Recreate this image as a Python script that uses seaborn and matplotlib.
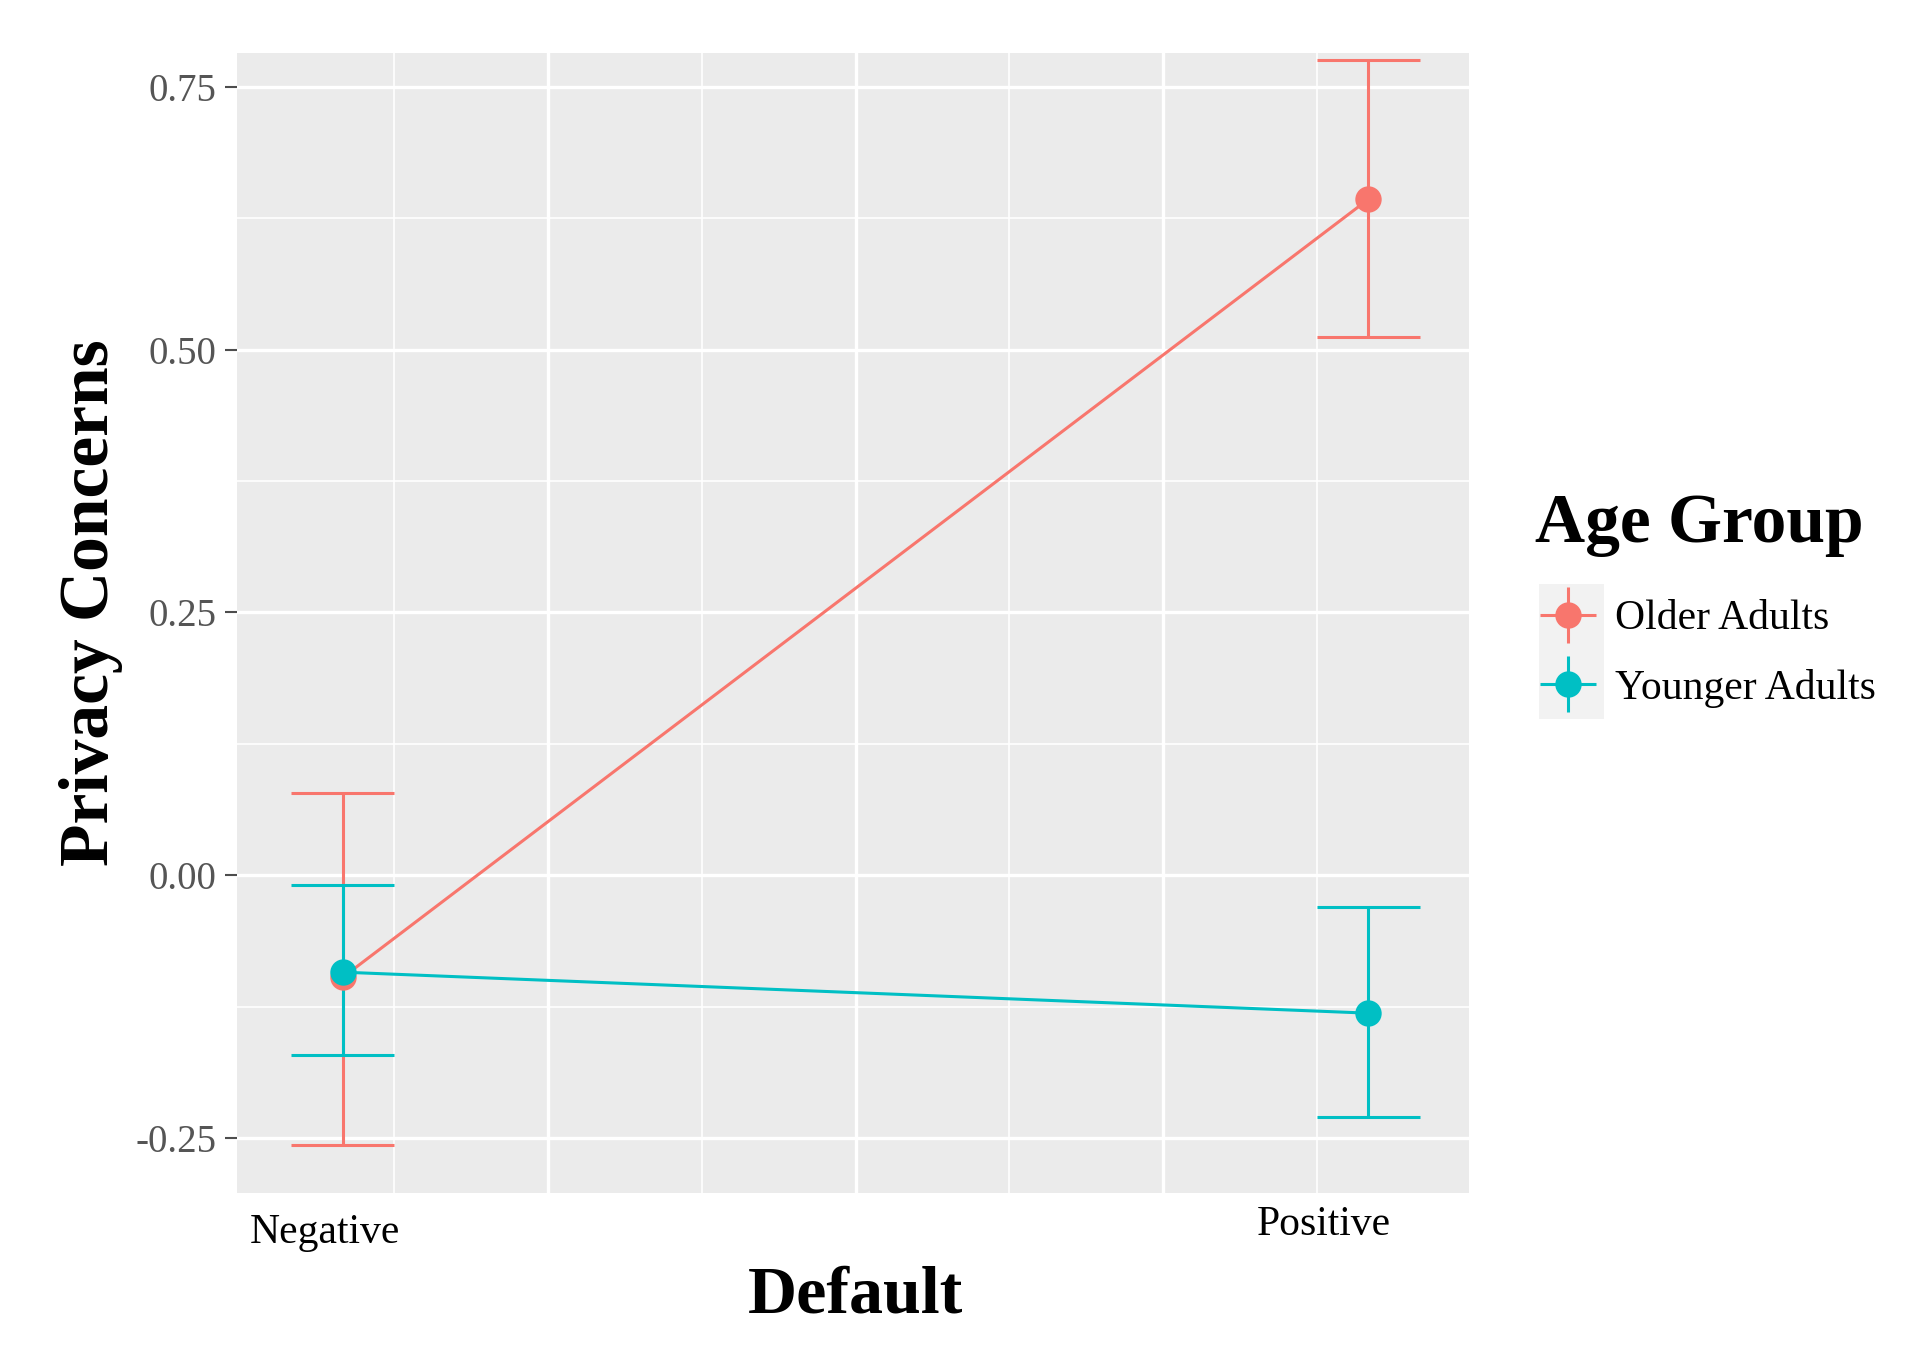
import pandas as pd
import numpy as np
import matplotlib.pyplot as plt
import matplotlib.transforms as mtransforms
import seaborn as sns
from matplotlib.lines import Line2D
from matplotlib.patches import Rectangle
from matplotlib.legend_handler import HandlerTuple

# values
categories = ['Negative', 'Positive']
groups = ['Older Adults', 'Younger Adults']
older_mean = [-0.097, 0.643]
older_lower = [-0.256, 0.512]
older_upper = [0.078, 0.775]
younger_mean = [-0.092, -0.131]
younger_lower = [-0.171, -0.230]
younger_upper = [-0.009, -0.030]
yticks = [-0.25, 0.0, 0.25, 0.50, 0.75]

colors = ['#F8766D', '#00BFC4']

rows = []
for g, m, lo, hi in zip(groups, [older_mean, younger_mean],
                        [older_lower, younger_lower], [older_upper, younger_upper]):
    for i, cat in enumerate(categories):
        rows.append({'Default': cat, 'x': i + 1, 'group': g,
                     'mean': m[i], 'lower': lo[i], 'upper': hi[i]})
df = pd.DataFrame(rows)

plt.rcParams['font.family'] = ['Liberation Serif', 'DejaVu Serif']
plt.rcParams['axes.unicode_minus'] = False

W, H = 1920, 1358
fig, ax = plt.subplots(figsize=(W / 100, H / 100), dpi=100)
fig.subplots_adjust(left=237 / W, right=1469 / W, bottom=1 - 1193 / H, top=1 - 53 / H)
ax.set_facecolor('#EBEBEB')
for s in ax.spines.values():
    s.set_visible(False)

# error bars (drawn per group so the teal ones sit on top)
half = 0.05
for g, c in zip(groups, colors):
    d = df[df.group == g]
    ax.vlines(d.x, d.lower, d.upper, color=c, lw=2.2, zorder=2)
    ax.hlines(d.lower, d.x - half, d.x + half, color=c, lw=2.2, zorder=2)
    ax.hlines(d.upper, d.x - half, d.x + half, color=c, lw=2.2, zorder=2)

sns.lineplot(data=df, x='x', y='mean', hue='group', palette=colors,
             marker='o', markersize=19, markeredgewidth=0, linewidth=2.2,
             legend=False, ax=ax, zorder=3)

ax.set_xlim(0.897, 2.098)
ax.set_ylim(-0.302, 0.782)

ax.set_xticks([1.2, 1.5, 1.8])
ax.set_xticks([1.05, 1.35, 1.65, 1.95], minor=True)
ax.set_yticks(yticks)
ax.set_yticklabels([f'{v:.2f}' for v in yticks])
ax.set_yticks([-0.125, 0.125, 0.375, 0.625], minor=True)
ax.set_axisbelow(True)
ax.grid(which='major', color='white', lw=2.4)
ax.grid(which='minor', color='white', lw=1.2)
ax.tick_params(axis='x', which='both', length=0, labelbottom=False)
ax.tick_params(axis='y', which='minor', length=0)
ax.tick_params(axis='y', which='major', length=8.6, width=1.5, color='#4d4d4d',
               labelsize=28, labelcolor='#555555', pad=6)

# category labels under the panel
trans = mtransforms.blended_transform_factory(ax.transData, ax.transAxes)
dx = [-0.017, -0.044]
base_y = [-0.0439, -0.0368]
for i, cat in enumerate(categories):
    ax.text(i + 1 + dx[i], base_y[i], cat, transform=trans, ha='center',
            va='baseline', fontsize=30, color='black')

ax.set_xlabel('Default', fontsize=49, fontweight='bold')
ax.xaxis.label.set_va('baseline')
ax.xaxis.set_label_coords(0.5016, -0.1044)
ax.set_ylabel('Privacy Concerns', fontsize=50, fontweight='bold')
ax.yaxis.label.set_va('center')
ax.yaxis.set_label_coords(-0.1185, 0.5175)

# legend: key background, then errorbar-style keys
fig.patches.append(Rectangle((1539 / W, 1 - 719 / H), 65 / W, 135 / H,
                             transform=fig.transFigure, facecolor='#F2F2F2',
                             edgecolor='none', zorder=0))
handles = [(Line2D([], [], color=c, marker='+', ms=40, mew=2.2, ls='none'),
            Line2D([], [], color=c, marker='o', ms=19, mew=0, ls='none'))
           for c in colors]
leg = fig.legend(handles, groups, handler_map={tuple: HandlerTuple(ndivide=1)},
                 title='Age Group', loc='upper left',
                 bbox_to_anchor=(1535 / W, 1 - 493 / H), frameon=False,
                 fontsize=30, title_fontproperties={'weight': 'bold', 'size': 50},
                 handlelength=1.56, labelspacing=0.73,
                 handletextpad=0.35, borderaxespad=0, borderpad=0,
                 alignment='left')
leg._legend_box.sep = 30.8

fig.savefig('out.png', dpi=100)
